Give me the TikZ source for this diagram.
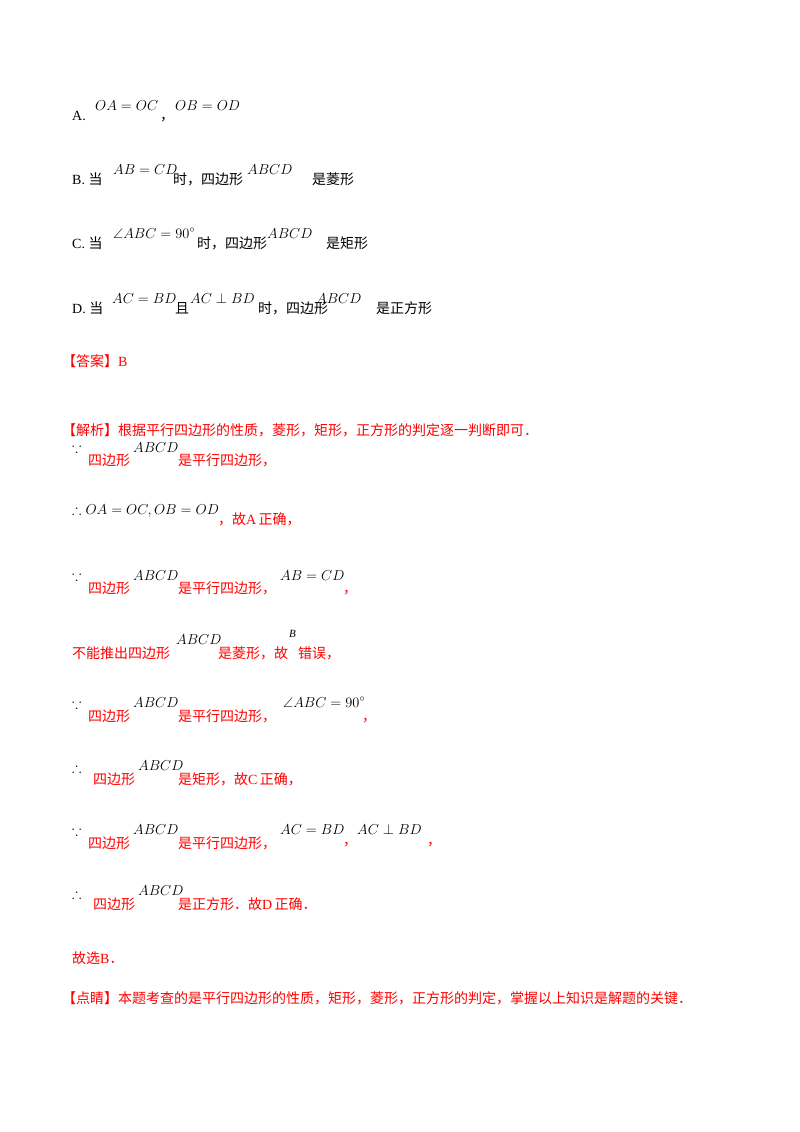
\documentclass[tikz,border=0pt]{standalone}
\usepackage{amssymb}
\usepackage{fontspec}
\setmainfont{Liberation Serif}
\newfontfamily\cjk{Noto Sans CJK SC}
\definecolor{ansred}{RGB}{255,0,0}
\newcommand\zh[1]{{\cjk #1}}
\tikzset{
  txt/.style={anchor=base west, inner sep=0pt, font=\fontsize{14}{14}\selectfont},
  mth/.style={anchor=base west, inner sep=0pt, font=\fontsize{14}{14}\selectfont},
  hot/.style={txt, text=ansred}
}
\begin{document}
\begin{tikzpicture}[x=1pt,y=-1pt]
  \useasboundingbox (0,0) rectangle (800,1132);
  % options
  \node[txt] (la) at (72,120) {A.};
  \node[mth] (ma1) at (95,110) {$OA=OC$};
  \node[txt] (ca) at (160,120) {\zh{，}};
  \node[mth] (ma2) at (175,110) {$OB=OD$};

  \node[txt] (lb) at (72,184) {B.\ \zh{当}};
  \node[mth] (mb1) at (113,174) {$AB=CD$};
  \node[txt] (tb1) at (173,184) {\zh{时，四边形}};
  \node[mth] (mb2) at (247,174) {$ABCD$};
  \node[txt] (tb2) at (312,184) {\zh{是菱形}};

  \node[txt] (lc) at (72,248) {C.\ \zh{当}};
  \node[mth] (mc1) at (113,238) {$\angle ABC=90^\circ$};
  \node[txt] (tc1) at (197,248) {\zh{时，四边形}};
  \node[mth] (mc2) at (267,238) {$ABCD$};
  \node[txt] (tc2) at (326,248) {\zh{是矩形}};

  \node[txt] (ld) at (72,313) {D.\ \zh{当}};
  \node[mth] (md1) at (112,303) {$AC=BD$};
  \node[txt] (td1) at (175,313) {\zh{且}};
  \node[mth] (md2) at (190,303) {$AC\perp BD$};
  \node[txt] (td2) at (258,313) {\zh{时，四边形}};
  \node[mth] (md3) at (316,303) {$ABCD$};
  \node[txt] (td3) at (376,313) {\zh{是正方形}};

  % answer
  \node[hot] (ans) at (62,366) {\zh{【答案】}B};
  \node[hot] (ana) at (62,435) {\zh{【解析】根据平行四边形的性质，菱形，矩形，正方形的判定逐一判断即可．}};

  \node[mth] (s1) at (72,452) {$\because$};
  \node[hot] (s1a) at (88,465) {\zh{四边形}};
  \node[mth] (s1b) at (133,452) {$ABCD$};
  \node[hot] (s1c) at (178,465) {\zh{是平行四边形，}};

  \node[mth] (s2) at (72,514) {$\therefore OA=OC,OB=OD$};
  \node[hot] (s2a) at (218,524) {\zh{，故}A\,\zh{正确，}};

  \node[mth] (s3) at (72,580) {$\because$};
  \node[hot] (s3a) at (88,593) {\zh{四边形}};
  \node[mth] (s3b) at (133,580) {$ABCD$};
  \node[hot] (s3c) at (178,593) {\zh{是平行四边形，}};
  \node[mth] (s3d) at (280,580) {$AB=CD$};
  \node[hot] (s3e) at (343,593) {\zh{，}};

  \node[hot] (s4) at (72,658) {\zh{不能推出四边形}};
  \node[mth] (s4a) at (176,644) {$ABCD$};
  \node[hot] (s4b) at (218,658) {\zh{是菱形，故}};
  \node[txt, font=\fontsize{11}{11}\selectfont\itshape] (s4c) at (289,637) {B};
  \node[hot] (s4d) at (298,658) {\zh{错误，}};

  \node[mth] (s5) at (72,708) {$\because$};
  \node[hot] (s5a) at (88,721) {\zh{四边形}};
  \node[mth] (s5b) at (133,707) {$ABCD$};
  \node[hot] (s5c) at (178,721) {\zh{是平行四边形，}};
  \node[mth] (s5d) at (283,707) {$\angle ABC=90^\circ$};
  \node[hot] (s5e) at (362,721) {\zh{，}};

  \node[mth] (s6) at (72,772) {$\therefore$};
  \node[hot] (s6a) at (93,784) {\zh{四边形}};
  \node[mth] (s6b) at (138,770) {$ABCD$};
  \node[hot] (s6c) at (178,784) {\zh{是矩形，故}C\,\zh{正确，}};

  \node[mth] (s7) at (72,835) {$\because$};
  \node[hot] (s7a) at (88,848) {\zh{四边形}};
  \node[mth] (s7b) at (133,834) {$ABCD$};
  \node[hot] (s7c) at (178,848) {\zh{是平行四边形，}};
  \node[mth] (s7d) at (280,834) {$AC=BD$};
  \node[hot] (s7e) at (343,845) {\zh{，}};
  \node[mth] (s7f) at (357,834) {$AC\perp BD$};
  \node[hot] (s7g) at (427,845) {\zh{，}};

  \node[mth] (s8) at (72,898) {$\therefore$};
  \node[hot] (s8a) at (93,909) {\zh{四边形}};
  \node[mth] (s8b) at (138,895) {$ABCD$};
  \node[hot] (s8c) at (178,909) {\zh{是正方形．故}D\,\zh{正确．}};

  \node[hot] (pick) at (72,963) {\zh{故选}B\zh{．}};
  \node[hot] (tip) at (62,1003) {\zh{【点睛】本题考查的是平行四边形的性质，矩形，菱形，正方形的判定，掌握以上知识是解题的关键．}};
\end{tikzpicture}
\end{document}
